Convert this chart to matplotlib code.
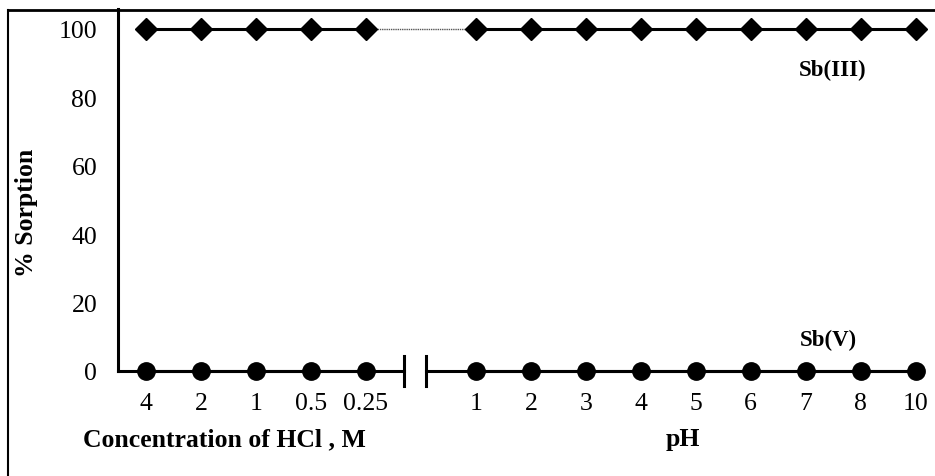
import matplotlib
matplotlib.use("Agg")
import matplotlib.pyplot as plt
from matplotlib.lines import Line2D

# Data
hcl_labels = ["4", "2", "1", "0.5", "0.25"]
ph_labels = ["1", "2", "3", "4", "5", "6", "7", "8", "10"]
sb3_hcl = [100, 100, 100, 100, 100]
sb3_ph = [100, 100, 100, 100, 100, 100, 100, 100, 100]
sb5_hcl = [0, 0, 0, 0, 0]
sb5_ph = [0, 0, 0, 0, 0, 0, 0, 0, 0]
yticks = [0, 20, 40, 60, 80, 100]

plt.rcParams['font.family'] = ['Liberation Serif', 'DejaVu Serif']

W, H = 935, 477
fig = plt.figure(figsize=(W / 100, H / 100), dpi=100)
ax_left, ax_right = 118 / W, 1.0
ax_bottom, ax_top = 1 - 372 / H, 1 - 10 / H
ax = fig.add_axes([ax_left, ax_bottom, ax_right - ax_left, ax_top - ax_bottom])

x_hcl = list(range(len(hcl_labels)))
x_ph = [len(hcl_labels) + 1 + i for i in range(len(ph_labels))]

ax.set_xlim(-0.507, 14.35)
ax.set_ylim(0, 105.8)

lw = 2.2
# Sb(III)
ax.plot(x_hcl, sb3_hcl, color='black', lw=lw, marker='D', ms=11, clip_on=False, zorder=4)
ax.plot(x_ph, sb3_ph, color='black', lw=lw, marker='D', ms=11, clip_on=False, zorder=4)
ax.plot([x_hcl[-1], x_ph[0]], [sb3_hcl[-1], sb3_ph[0]], color='#555555', lw=1.0,
        ls=(0, (1, 0.6)), zorder=3)
# Sb(V)
ax.plot(x_hcl, sb5_hcl, color='black', lw=lw, marker='o', ms=12.5, clip_on=False, zorder=4)
ax.plot(x_ph, sb5_ph, color='black', lw=lw, marker='o', ms=12.5, clip_on=False, zorder=4)

# Broken x axis
b1, b2 = 4.69, 5.09
ax.plot([-0.507, b1], [0, 0], color='black', lw=lw, clip_on=False, zorder=3)
ax.plot([b2, x_ph[-1]], [0, 0], color='black', lw=lw, clip_on=False, zorder=3)
for b in (b1, b2):
    ax.plot([b, b], [-4.4, 4.4], color='black', lw=lw, clip_on=False, zorder=3)

for s in ['top', 'right', 'bottom']:
    ax.spines[s].set_visible(False)
ax.spines['left'].set_linewidth(lw)

ax.set_yticks(yticks)
ax.set_yticklabels([str(v) for v in yticks], fontsize=18.5)
ax.tick_params(axis='y', length=0, pad=15)
ax.set_xticks(x_hcl + x_ph)
ax.set_xticklabels(hcl_labels + ph_labels, fontsize=18.5)
ax.tick_params(axis='x', length=0, pad=15)

# Text
fig.text(27 / W, 1 - 213 / H, "% Sorption", rotation=90, ha='center', va='center',
         fontsize=18.5, fontweight='bold')
fig.text(224 / W, 1 - 440 / H, "Concentration of HCl , M", ha='center', va='center',
         fontsize=18.5, fontweight='bold')
fig.text(683 / W, 1 - 440 / H, "pH", ha='center', va='center',
         fontsize=18.5, fontweight='bold')
fig.text(833 / W, 1 - 70 / H, "Sb(III)", ha='center', va='center',
         fontsize=16.5, fontweight='bold')
fig.text(828 / W, 1 - 340 / H, "Sb(V)", ha='center', va='center',
         fontsize=16.5, fontweight='bold')

# Figure border (left and top)
ybt = 1 - 10.5 / H
fig.add_artist(Line2D([8 / W, 1.0], [ybt, ybt], transform=fig.transFigure, color='black', lw=2.0))
fig.add_artist(Line2D([8 / W, 8 / W], [0, ybt], transform=fig.transFigure, color='black', lw=1.5))

fig.savefig("out.png", dpi=100)
